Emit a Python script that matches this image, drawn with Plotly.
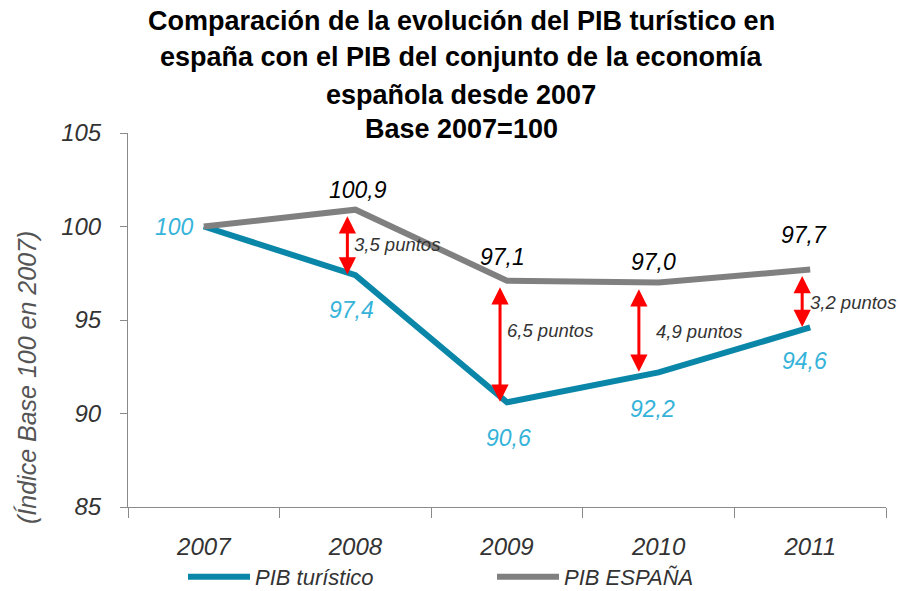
import plotly.graph_objects as go

# ---------------- data ----------------
years = ["2007", "2008", "2009", "2010", "2011"]
pib_turistico = [100.0, 97.4, 90.6, 92.2, 94.6]
pib_espana = [100.0, 100.9, 97.1, 97.0, 97.7]
turistico_labels = ["100", "97,4", "90,6", "92,2", "94,6"]
espana_labels = ["", "100,9", "97,1", "97,0", "97,7"]
gap_labels = ["3,5 puntos", "6,5 puntos", "4,9 puntos", "3,2 puntos"]
y_ticks = [85, 90, 95, 100, 105]
title_lines = [
    "Comparación de la evolución del PIB turístico en",
    "españa con el PIB del conjunto de la economía",
    "española desde 2007",
    "Base 2007=100",
]

# ---------------- styles ----------------
FONT = "Liberation Sans, Arial, Helvetica, sans-serif"
TEAL = "#0a87a8"
GREY = "#808080"
LBLUE = "#36b3d9"
AXIS = "#8a8a8a"
TXT = "#333333"

L, R, T, B = 128, 12, 133, 84
W, H = 898, 591
plot_h = H - T - B
plot_w = W - L - R
Y0, Y1 = 85, 105
X0, X1 = -0.5, 4.5


def py2paper(py):
    return (H - B - py) / plot_h


def px2paper(px):
    return (px - L) / plot_w


def xd2paper(x):
    return (x - X0) / (X1 - X0)


def yd2paper(y):
    return (y - Y0) / (Y1 - Y0)


fig = go.Figure()
fig.add_trace(go.Scatter(
    x=list(range(len(years))), y=pib_turistico, mode="lines",
    name="PIB turístico", line=dict(color=TEAL, width=6), legendrank=1,
    hoverinfo="skip",
))
fig.add_trace(go.Scatter(
    x=list(range(len(years))), y=pib_espana, mode="lines",
    name="PIB ESPAÑA", line=dict(color=GREY, width=6), legendrank=2,
    hoverinfo="skip",
))

ann = []
# title lines
title_y_px = [21, 57, 95, 129]
for line, ypx in zip(title_lines, title_y_px):
    ann.append(dict(
        text="<b>" + line + "</b>", xref="paper", yref="paper",
        x=px2paper(461), y=py2paper(ypx), xanchor="center", yanchor="middle",
        showarrow=False, font=dict(family=FONT, size=27, color="#000000"),
    ))

# y-axis title
ann.append(dict(
    text="(Índice Base 100 en 2007)", xref="paper", yref="paper",
    x=px2paper(27), y=py2paper(378), textangle=-90,
    xanchor="center", yanchor="middle", showarrow=False,
    font=dict(family=FONT, size=25, color="#555555", style="italic"),
))

# turistico labels
t_shift = [(-8, 0), (-4, -35), (1, -36), (-6, -37), (-6, -34)]
for i, (lab, v) in enumerate(zip(turistico_labels, pib_turistico)):
    dx, dy = t_shift[i]
    ann.append(dict(
        text=lab, x=xd2paper(i), y=yd2paper(v), xref="paper", yref="paper",
        showarrow=False,
        xanchor="right" if i == 0 else "center", yanchor="middle",
        xshift=dx, yshift=dy,
        font=dict(family=FONT, size=23, color=LBLUE, style="italic"),
    ))

# espana labels
e_shift = [(0, 0), (3, 20), (-5, 24), (-5, 21), (-6, 35)]
for i, (lab, v) in enumerate(zip(espana_labels, pib_espana)):
    if not lab:
        continue
    dx, dy = e_shift[i]
    ann.append(dict(
        text=lab, x=xd2paper(i), y=yd2paper(v), xref="paper", yref="paper",
        showarrow=False,
        xanchor="center", yanchor="middle", xshift=dx, yshift=dy,
        font=dict(family=FONT, size=23, color="#000000", style="italic"),
    ))

# gap arrows + labels
arrow_dx = [-0.053, -0.046, -0.13, -0.053]
label_dx = [5, 5, 15, 6]
label_dy = [2, 15, 0, 0]
for k, lab in enumerate(gap_labels):
    i = k + 1
    top = pib_espana[i] - 0.35
    bot = pib_turistico[i] - 0.05
    xa = i + arrow_dx[k]
    ann.append(dict(
        x=xa, y=top, ax=xa, ay=bot,
        xref="x", yref="y", axref="x", ayref="y",
        text="", showarrow=True, arrowside="end+start",
        arrowhead=2, startarrowhead=2, arrowsize=1.15, startarrowsize=1.15,
        arrowwidth=3, arrowcolor="#ff0000", standoff=0, startstandoff=0,
    ))
    ann.append(dict(
        text=lab, x=xd2paper(xa), y=yd2paper((top + bot) / 2),
        xref="paper", yref="paper", showarrow=False,
        xanchor="left", yanchor="middle", xshift=label_dx[k], yshift=label_dy[k],
        font=dict(family=FONT, size=18.5, color=TXT, style="italic"),
    ))

fig.update_layout(
    width=W, height=H,
    margin=dict(l=L, r=R, t=T, b=B, pad=0, autoexpand=False),
    paper_bgcolor="white", plot_bgcolor="white",
    font=dict(family=FONT, color=TXT),
    showlegend=True,
    legend=dict(
        orientation="h", x=px2paper(183), xanchor="left",
        y=py2paper(598), yanchor="bottom",
        font=dict(family=FONT, size=22, color=TXT, style="italic"),
        itemwidth=62, entrywidth=232, entrywidthmode="pixels",
        bgcolor="rgba(0,0,0,0)", itemclick=False,
    ),
    annotations=ann,
    xaxis=dict(
        type="linear", range=[X0, X1], automargin=False,
        tickmode="array", tickvals=list(range(len(years))), ticktext=years,
        ticks="", showline=True, linecolor=AXIS, linewidth=1,
        showgrid=False, zeroline=False,
        tickfont=dict(family=FONT, size=24, color=TXT, style="italic"),
        ticklabelstandoff=18, fixedrange=True,
    ),
    xaxis2=dict(
        overlaying="x", range=[X0, X1], tickmode="array", automargin=False,
        tickvals=[-0.5, 0.5, 1.5, 2.5, 3.5, 4.5], ticktext=[""] * 6,
        ticks="outside", ticklen=10, tickcolor=AXIS, side="bottom",
        showline=False, showgrid=False, zeroline=False, anchor="y",
    ),
    yaxis=dict(
        range=[Y0, Y1], tickmode="array", tickvals=y_ticks, automargin=False,
        ticktext=[str(v) for v in y_ticks],
        ticks="outside", ticklen=7, tickcolor=AXIS,
        showline=True, linecolor=AXIS, linewidth=1,
        showgrid=False, zeroline=False,
        tickfont=dict(family=FONT, size=24, color=TXT, style="italic"),
        ticklabelstandoff=14, fixedrange=True,
    ),
)
# dummy trace to activate xaxis2 for boundary ticks
fig.add_trace(go.Scatter(x=[None], y=[None], xaxis="x2", showlegend=False,
                         hoverinfo="skip"))

fig.write_html(
    "out.html",
    config={"displayModeBar": False},
    post_script="document.body.style.margin='0';document.body.style.overflow='hidden';",
)
